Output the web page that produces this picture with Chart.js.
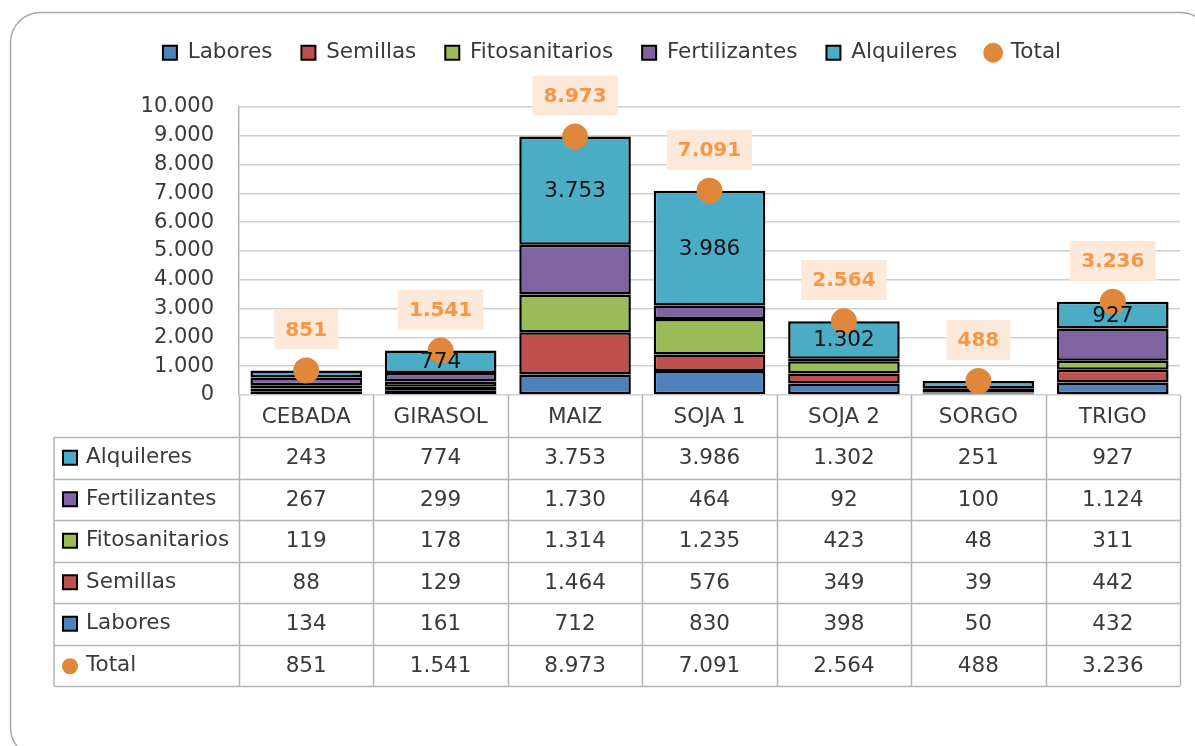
<!DOCTYPE html>
<html>
<head>
<meta charset="utf-8">
<script src="https://cdn.jsdelivr.net/npm/chart.js@4"></script>
<style>
  body { margin: 0; background: #fff; }
  #wrap { width: 1195px; height: 746px; }
</style>
</head>
<body>
<div id="wrap"><canvas id="chart1" width="1195" height="746"></canvas></div>
<script>
var categories = ['CEBADA', 'GIRASOL', 'MAIZ', 'SOJA 1', 'SOJA 2', 'SORGO', 'TRIGO'];
var labores = [134, 161, 712, 830, 398, 50, 432];
var semillas = [88, 129, 1464, 576, 349, 39, 442];
var fitosanitarios = [119, 178, 1314, 1235, 423, 48, 311];
var fertilizantes = [267, 299, 1730, 464, 92, 100, 1124];
var alquileres = [243, 774, 3753, 3986, 1302, 251, 927];
var total = [851, 1541, 8973, 7091, 2564, 488, 3236];
var yTicks = [0, 1000, 2000, 3000, 4000, 5000, 6000, 7000, 8000, 9000, 10000];

var FONT = '"DejaVu Sans"';
var FS = 21.5;
var TEXT = '#3a3a3a';
var ORANGE_PT = '#df873b';

function fmt(v) {
    return String(v).replace(/\B(?=(\d{3})+(?!\d))/g, '.');
}

// outer rounded frame + table + labels
var extras = {
    id: 'extras',
    beforeLayout: function (chart) {
        // make the legend block reach down to where the plot starts
        var lg = chart.legend;
        if (lg && !lg._tall) {
            var fit = lg.fit;
            lg.fit = function () {
                fit.call(this);
                this.height = 94;
            };
            lg._tall = true;
        }
    },
    afterLayout: function (chart) {
        // legend sits a bit right of the canvas centre
        if (chart.legend) {
            chart.legend.left += 22;
            chart.legend.right += 22;
        }
    },
    beforeDraw: function (chart) {
        var c = chart.ctx;
        c.save();
        c.strokeStyle = '#a8a8a8';
        c.lineWidth = 1.5;
        c.beginPath();
        c.roundRect(10.5, 12.5, 1200, 745, 30);
        c.stroke();
        c.restore();
    },
    afterDraw: function (chart) {
        var c = chart.ctx;
        var area = chart.chartArea;
        var xs = chart.scales.x;
        var colW = (area.right - area.left) / categories.length;
        var tableLeft = 54;
        var headTop = area.bottom;
        var headBot = headTop + 42;
        var rowH = 41.5;
        var rows = [
            { name: 'Alquileres', data: alquileres, color: '#4bacc6' },
            { name: 'Fertilizantes', data: fertilizantes, color: '#8064a2' },
            { name: 'Fitosanitarios', data: fitosanitarios, color: '#9bbb59' },
            { name: 'Semillas', data: semillas, color: '#c0504d' },
            { name: 'Labores', data: labores, color: '#4f81bd' },
            { name: 'Total', data: total, color: ORANGE_PT, dot: true }
        ];
        var tableBot = headBot + rowH * rows.length;

        c.save();
        // grid of the table
        c.strokeStyle = '#b3b3b3';
        c.lineWidth = 1.5;
        c.beginPath();
        for (var i = 0; i <= categories.length; i++) {
            var x = Math.round(area.left + colW * i) + 0.5;
            c.moveTo(x, headTop);
            c.lineTo(x, tableBot);
        }
        c.moveTo(tableLeft, headBot); c.lineTo(tableLeft, tableBot);
        for (var r = 0; r <= rows.length; r++) {
            var y = Math.round(headBot + rowH * r) + 0.5;
            c.moveTo(tableLeft, y);
            c.lineTo(area.right, y);
        }
        c.stroke();

        c.font = FS + 'px ' + FONT;
        c.fillStyle = TEXT;
        c.textAlign = 'center';
        c.textBaseline = 'middle';
        categories.forEach(function (cat, i) {
            c.fillText(cat, xs.getPixelForValue(i), (headTop + headBot) / 2 + 1);
        });
        rows.forEach(function (row, r) {
            var cy = headBot + rowH * r + rowH / 2;
            if (row.dot) {
                c.fillStyle = row.color;
                c.beginPath();
                c.arc(70, cy + 1, 8, 0, Math.PI * 2);
                c.fill();
            } else {
                c.fillStyle = row.color;
                c.fillRect(63, cy - 7, 14, 14);
                c.strokeStyle = '#000';
                c.lineWidth = 2;
                c.strokeRect(63, cy - 7, 14, 14);
            }
            c.fillStyle = TEXT;
            c.textAlign = 'left';
            c.fillText(row.name, 86, cy);
            c.textAlign = 'center';
            row.data.forEach(function (v, i) {
                c.fillText(fmt(v), xs.getPixelForValue(i), cy + 1);
            });
        });

        // labels on Alquileres segments
        var aMeta = chart.getDatasetMeta(4);
        c.fillStyle = '#111';
        c.font = FS + 'px ' + FONT;
        aMeta.data.forEach(function (bar, i) {
            if (alquileres[i] < 500) return;
            c.fillText(fmt(alquileres[i]), bar.x, (bar.y + bar.base) / 2 + 1);
        });

        // total labels
        var tMeta = chart.getDatasetMeta(5);
        c.font = 'bold 20px ' + FONT;
        tMeta.data.forEach(function (pt, i) {
            var txt = fmt(total[i]);
            var w = c.measureText(txt).width + 22;
            var cy = pt.y - 41;
            c.fillStyle = '#fde9d9';
            c.fillRect(pt.x - w / 2, cy - 20, w, 40);
            c.fillStyle = '#f79646';
            c.fillText(txt, pt.x, cy + 1);
        });
        c.restore();
    }
};

var ctx1 = document.getElementById('chart1').getContext('2d');
var chart1 = new Chart(ctx1, {
    type: 'bar',
    data: {
        labels: categories,
        datasets: [
            { label: 'Labores', data: labores, backgroundColor: '#4f81bd' },
            { label: 'Semillas', data: semillas, backgroundColor: '#c0504d' },
            { label: 'Fitosanitarios', data: fitosanitarios, backgroundColor: '#9bbb59' },
            { label: 'Fertilizantes', data: fertilizantes, backgroundColor: '#8064a2' },
            { label: 'Alquileres', data: alquileres, backgroundColor: '#4bacc6' },
            {
                label: 'Total', data: total, type: 'line', showLine: false, order: -1,
                pointRadius: 13, pointHoverRadius: 13, pointBorderWidth: 0,
                backgroundColor: ORANGE_PT, borderColor: ORANGE_PT
            }
        ]
    },
    options: {
        responsive: false,
        animation: false,
        datasets: {
            bar: {
                borderColor: '#000',
                borderWidth: 2.5,
                borderSkipped: false,
                categoryPercentage: 1,
                barPercentage: 0.83
            }
        },
        layout: { padding: { left: 0, right: 15, top: 13, bottom: 351 } },
        scales: {
            x: { stacked: true, display: false },
            y: {
                stacked: true,
                min: 0,
                max: 10000,
                afterFit: function (s) { s.width = 239; },
                afterBuildTicks: function (s) {
                    s.ticks = yTicks.map(function (v) { return { value: v }; });
                },
                ticks: {
                    autoSkip: false,
                    padding: 25,
                    color: TEXT,
                    font: { family: FONT, size: 21 },
                    callback: function (v) { return fmt(v); }
                },
                grid: { color: '#d0d0d0', lineWidth: 1.5, drawTicks: false },
                border: { color: '#b3b3b3', width: 1.5 }
            }
        },
        plugins: {
            tooltip: { enabled: false },
            legend: {
                position: 'top',
                labels: {
                    font: { family: FONT, size: FS },
                    color: TEXT,
                    padding: 29,
                    boxWidth: 14,
                    boxHeight: 14,
                    usePointStyle: true,
                    sort: function (a, b) { return a.datasetIndex - b.datasetIndex; },
                    generateLabels: function (chart) {
                        var items = Chart.defaults.plugins.legend.labels.generateLabels(chart);
                        items.forEach(function (it) {
                            if (it.datasetIndex === 5) {
                                it.pointStyle = 'circle';
                                it.lineWidth = 0;
                            } else {
                                it.pointStyle = 'rect';
                                it.strokeStyle = '#000';
                                it.lineWidth = 2;
                            }
                        });
                        return items;
                    }
                }
            }
        }
    },
    plugins: [extras]
});
</script>
</body>
</html>
